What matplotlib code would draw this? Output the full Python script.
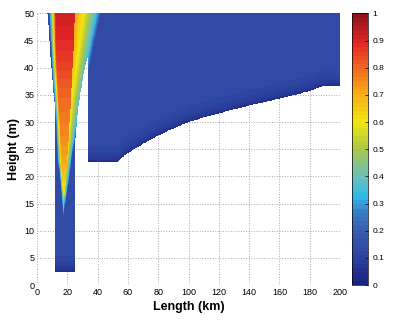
import numpy as np
import matplotlib.pyplot as plt
from matplotlib.colors import LinearSegmentedColormap

plt.rcParams['font.family'] = ['Liberation Sans', 'DejaVu Sans']

# plume profile read at several heights (m): peak value and band edges (km)
plume_y = [13.0, 15.0, 17.5, 20.0, 23.0, 25.0, 30.0, 35.0, 40.0, 45.0, 50.0]
plume_peak = [0.25, 0.45, 0.6, 0.66, 0.71, 0.73, 0.77, 0.8, 0.85, 0.89, 0.92]
outer_left = [17.0, 16.5, 15.9, 14.9, 13.5, 13.0, 12.2, 11.0, 9.8, 8.8, 8.0]
core_left = [17.4, 17.2, 17.0, 16.6, 16.0, 15.8, 15.0, 14.0, 13.0, 12.5, 12.4]
core_right = [17.4, 17.8, 18.6, 19.2, 20.0, 20.5, 21.5, 22.5, 23.5, 24.3, 25.0]
outer_right = [17.8, 18.8, 20.2, 21.5, 22.8, 24.0, 27.5, 31.0, 34.5, 38.0, 42.0]
right_shoulder = 0.75

# narrow channel outline
chan_bottom = 2.5
chan_left_y = [2.5, 32.0, 36.0, 40.0, 45.0, 50.0]
chan_left_x = [12.0, 12.0, 10.8, 9.5, 8.2, 7.0]
chan_right_y = [2.5, 25.0, 30.0, 35.0, 40.0, 42.0]
chan_right_x = [25.0, 25.0, 26.2, 28.4, 31.5, 33.5]

# wide basin, left edge and bottom line
basin_left = 33.5
basin_x = [33.5, 53.7, 56, 60, 67, 76, 85, 101, 120, 138, 160, 180, 186, 190, 200]
basin_y = [22.7, 22.7, 23.5, 24.3, 25.5, 26.9, 28.2, 30.1, 31.6, 32.9, 34.3, 35.7, 36.4, 36.6, 36.6]

background = 0.14

cmap_pos = [0.0, 0.1, 0.2, 0.27, 0.32, 0.4, 0.5, 0.6, 0.7, 0.8, 0.9, 1.0]
cmap_hex = ['#1c2280', '#2c43a0', '#3a5db2', '#3a7fc8', '#30b8e8', '#6cc0b8',
            '#a8c848', '#f2e610', '#f7b217', '#ef6a22', '#e22426', '#8c1519']
cmap = LinearSegmentedColormap.from_list('ref', list(zip(cmap_pos, cmap_hex)), N=64)

x = np.arange(0, 200.01, 0.25)
y = np.arange(0, 50.01, 0.1)
X, Y = np.meshgrid(x, y)

ol = np.interp(Y, plume_y, outer_left)
cl = np.interp(Y, plume_y, core_left)
cr = np.interp(Y, plume_y, core_right)
orr = np.interp(Y, plume_y, outer_right)
peak = np.interp(Y, plume_y, plume_peak)

g = np.zeros_like(X)
lp = (X >= ol) & (X < cl)
g[lp] = ((X - ol) / (cl - ol))[lp] ** 0.9
g[(X >= cl) & (X <= cr)] = 1
rp = (X > cr) & (X <= orr)
g[rp] = right_shoulder * ((orr - X) / (orr - cr))[rp] ** 0.6
g[Y < plume_y[0]] = 0

floor = np.where(X < basin_left, chan_bottom, np.interp(X, basin_x, basin_y))
bg = background - 0.10 * np.exp(-np.clip(Y - floor, 0, None) / 1.5)
V = bg + (peak - bg) * g

column = (Y >= chan_bottom) & (X >= np.interp(Y, chan_left_y, chan_left_x)) \
    & (X <= np.interp(Y, chan_right_y, chan_right_x))
basin = (X >= basin_left) & (Y >= np.interp(X, basin_x, basin_y))
V = np.ma.masked_where(~(column | basin), V)

fig = plt.figure(figsize=(4, 3.23), dpi=100)
ax = fig.add_axes([0.0925, 0.1176, 0.7575, 0.841])
ax.set_axisbelow(True)
ax.grid(True, color='#aaaaaa', linestyle=':', linewidth=0.7)
pcm = ax.pcolormesh(x, y, V, cmap=cmap, vmin=0, vmax=1, shading='auto')
ax.set_xlim(0, 200)
ax.set_ylim(0, 50)
ax.set_xticks(range(0, 201, 20))
ax.set_yticks(range(0, 51, 5))
for s in ax.spines.values():
    s.set_visible(False)
ax.tick_params(length=0, labelsize=6.5, pad=2)
ax.set_xlabel('Length (km)', fontsize=9, fontweight='bold', labelpad=3)
ax.set_ylabel('Height (m)', fontsize=9, fontweight='bold', labelpad=3)

cax = fig.add_axes([0.881, 0.1176, 0.04, 0.841])
cb = fig.colorbar(pcm, cax=cax)
cb.set_ticks([0, 0.1, 0.2, 0.3, 0.4, 0.5, 0.6, 0.7, 0.8, 0.9, 1])
cb.set_ticklabels(['0', '0.1', '0.2', '0.3', '0.4', '0.5', '0.6', '0.7', '0.8', '0.9', '1'])
cb.ax.tick_params(labelsize=6, direction='in', length=2, width=0.5, pad=3)
cb.outline.set_linewidth(0.5)

fig.savefig('out.png', dpi=100)
